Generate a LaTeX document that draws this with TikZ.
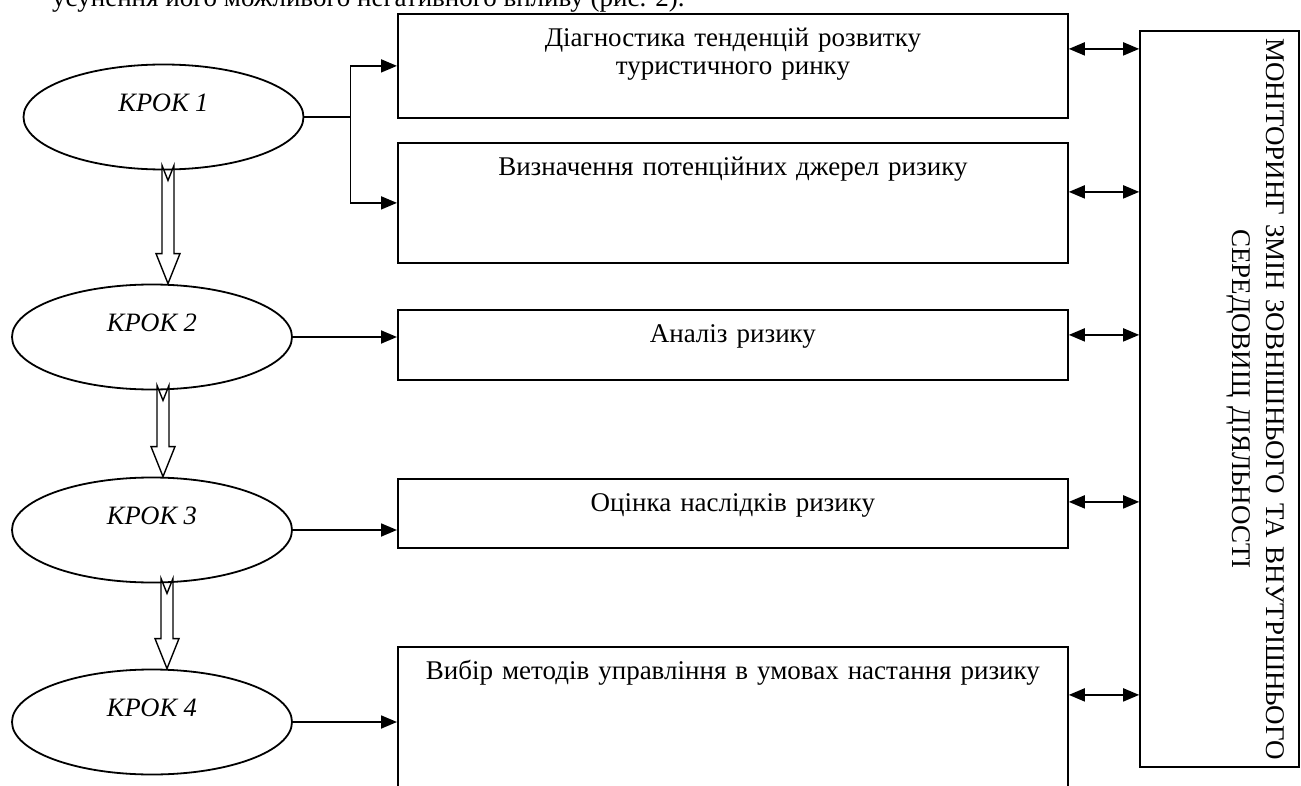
\documentclass[tikz,border=0pt]{standalone}
\usepackage{fontspec}
\setmainfont{Liberation Serif}
\usetikzlibrary{shapes.geometric,arrows.meta,calc}

\begin{document}
\begin{tikzpicture}[x=1pt,y=-1pt,line width=1.8pt,
  every node/.style={font=\fontsize{27}{28}\selectfont},
  krok/.style={draw,ellipse,minimum width=280pt,minimum height=105pt,inner sep=0pt,
    font=\fontsize{26.5}{28}\selectfont\itshape,text height=17pt,text depth=28pt},
  stage/.style={draw,anchor=north west,inner sep=0pt,text width=670pt,align=center,
    text height=33pt,text depth=#1},
  link/.style={-{Triangle[length=16pt,width=13pt]}},
  twoway/.style={{Triangle[length=16pt,width=13pt]}-{Triangle[length=16pt,width=13pt]}},
  hollow/.style={fill=white,line width=1.4pt,line join=miter}]
\useasboundingbox (0,0) rectangle (1301,786);
\node[anchor=base west] (intro) at (48,7) {усунення його можливого негативного впливу (рис. 2).};
\node[krok] (k1) at (163.5,117) {КРОК 1};
\node[krok] (k2) at (152,337) {КРОК 2};
\node[krok] (k3) at (152,530) {КРОК 3};
\node[krok] (k4) at (152,722) {КРОК 4};
\node[stage=71pt] (b1) at (397,13) {Діагностика тенденцій розвитку\\туристичного ринку};
\node[stage=87pt] (b2) at (397,142) {Визначення потенційних джерел ризику};
\node[stage=37pt] (b3) at (397,309) {Аналіз ризику};
\node[stage=36pt] (b4) at (397,478) {Оцінка наслідків ризику};
\node[stage=127pt] (b5) at (397,646) {Вибір методів управління в умовах настання ризику};
\node[draw,rotate=-90,anchor=north west,inner sep=0pt,text width=736pt,align=center,
  text height=33pt,text depth=126pt,font=\fontsize{27}{34}\selectfont] (mon) at (1300,30)
  {МОНІТОРИНГ ЗМІН ЗОВНІШНЬОГО ТА ВНУТРІШНЬОГО\\СЕРЕДОВИЩ ДІЯЛЬНОСТІ};
\draw[link] (k1.east) -- ++(46,0) |- (b1.west);
\draw[link] (k1.east) -- ++(46,0) |- (b2.west);
\draw[link] (k2.east) -- (k2.east -| b3.west);
\draw[link] (k3.east) -- (k3.east -| b4.west);
\draw[link] (k4.east) -- (k4.east -| b5.west);
\foreach \b/\s in {b1/17,b2/11,b3/10,b4/11.5,b5/32}{
  \coordinate (p) at ([yshift=\s pt]\b.east);
  \draw[twoway] (p) -- (p -| mon.south);
}
\foreach \a/\b/\ax in {k1/k2/168,k2/k3/163,k3/k4/167}
  \draw[hollow] let \p1=(\a.south), \p2=(\b.north) in
    ({\ax*1pt-6pt},{\y1+5pt}) -- ({\ax*1pt},{\y1-10pt}) -- ({\ax*1pt+6pt},{\y1+5pt})
    -- ({\ax*1pt+6pt},{\y2+30pt}) -- ({\ax*1pt+12pt},{\y2+30pt}) -- ({\ax*1pt},{\y2})
    -- ({\ax*1pt-12pt},{\y2+30pt}) -- ({\ax*1pt-6pt},{\y2+30pt}) -- cycle;
\end{tikzpicture}
\end{document}
